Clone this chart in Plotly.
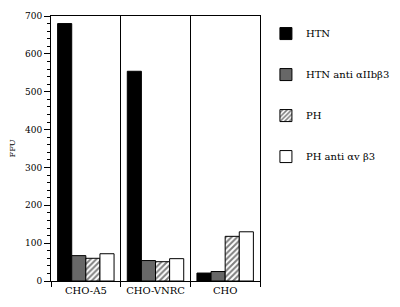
import plotly.graph_objects as go

categories = ["CHO-A5", "CHO-VNRC", "CHO"]
series_names = ["HTN", "HTN anti \u03b1IIb\u03b23", "PH", "PH anti \u03b1v \u03b23"]
htn = [680, 554, 21]
htn_anti = [67, 54, 25]
ph = [60, 51, 118]
ph_anti = [72, 59, 130]
y_ticks = [0, 100, 200, 300, 400, 500, 600, 700]

values = [htn, htn_anti, ph, ph_anti]
fills = ["#000000", "#676767", "#ffffff", "#ffffff"]
patterns = ["", "", "/", ""]

FONT = "DejaVu Serif"
BLACK = "#000000"
fig = go.Figure()
for i, (name, vals) in enumerate(zip(series_names, values)):
    fig.add_trace(go.Bar(
        x=categories, y=vals, name=name, legendgroup=name,
        marker=dict(color=fills[i], line=dict(color=BLACK, width=1),
                    pattern=dict(shape=patterns[i], fgcolor=BLACK, bgcolor="#ffffff",
                                 size=4, solidity=0.5)),
    ))

# the page body has an 8px default margin, so the figure is 8px smaller
fig.update_layout(
    width=392, height=299,
    margin=dict(l=38, r=140, t=3, b=26),
    paper_bgcolor="white", plot_bgcolor="white",
    barmode="group", bargap=0.19, bargroupgap=0,
    font=dict(family=FONT, color=BLACK, size=10),
    showlegend=True,
    legend=dict(xref="container", yref="container", x=0.658, y=0.963,
                xanchor="left", yanchor="top",
                font=dict(size=10, family=FONT, color=BLACK),
                tracegroupgap=22, traceorder="grouped",
                bgcolor="rgba(0,0,0,0)"),
)
fig.update_xaxes(
    type="category", categoryorder="array", categoryarray=categories,
    showline=True, linecolor=BLACK, linewidth=1, mirror=True,
    tickson="boundaries", ticks="outside", ticklen=5, tickcolor=BLACK,
    showgrid=True, gridcolor=BLACK, gridwidth=1,
    tickfont=dict(size=10, family=FONT, color=BLACK), range=[-0.5, 2.5],
)
fig.update_yaxes(
    range=[0, 700], tickvals=y_ticks, ticklabeloverflow="allow",
    showline=True, linecolor=BLACK, linewidth=1, mirror=True,
    ticks="outside", ticklen=6, tickcolor=BLACK,
    minor=dict(dtick=20, ticks="outside", ticklen=3, tickcolor=BLACK),
    showgrid=False, zeroline=False,
    tickfont=dict(size=9, family=FONT, color=BLACK),
    title=dict(text="FFU", font=dict(size=8, family=FONT, color=BLACK), standoff=8),
)
fig.write_html("out.html")
